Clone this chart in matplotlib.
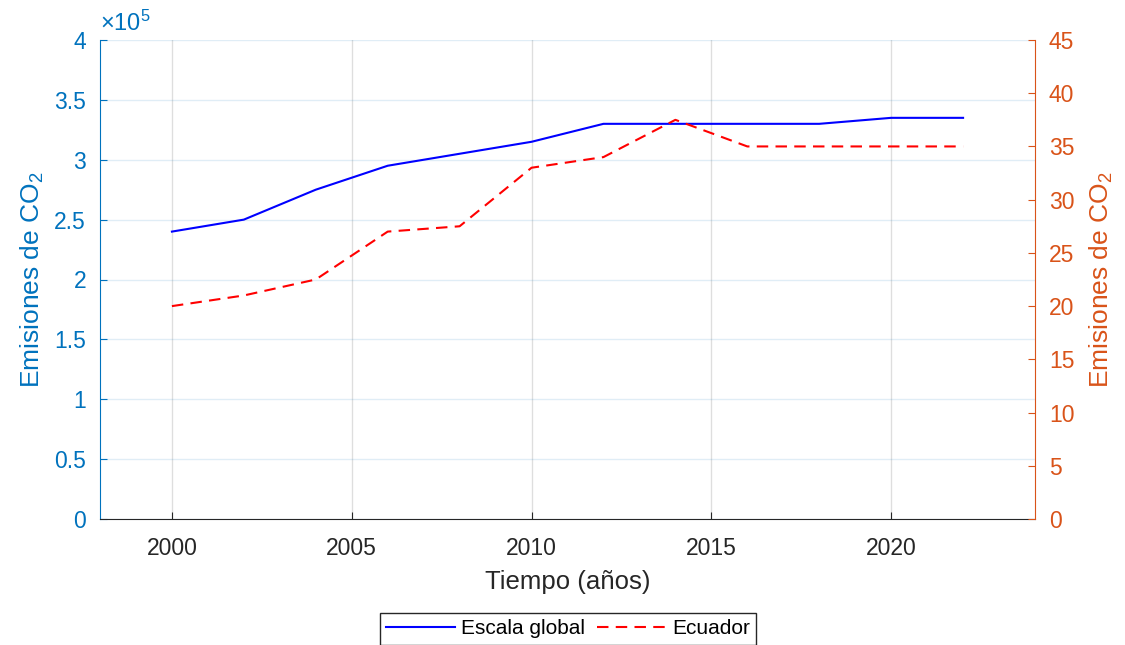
import numpy as np
import matplotlib
matplotlib.use("Agg")
import matplotlib.pyplot as plt
from matplotlib.ticker import FuncFormatter, MultipleLocator
from matplotlib.lines import Line2D

plt.rcParams["font.family"] = ["Liberation Sans", "DejaVu Sans"]
plt.rcParams["mathtext.fontset"] = "custom"
plt.rcParams["mathtext.rm"] = "Liberation Sans"
plt.rcParams["mathtext.default"] = "regular"

years = [2000, 2002, 2004, 2006, 2008, 2010, 2012, 2014, 2016, 2018, 2020, 2022]
global_co2 = [2.40e5, 2.50e5, 2.75e5, 2.95e5, 3.05e5, 3.15e5, 3.30e5, 3.30e5,
              3.30e5, 3.30e5, 3.35e5, 3.35e5]
ecuador_co2 = [20.0, 21.0, 22.5, 27.0, 27.5, 33.0, 34.0, 37.5, 35.0, 35.0, 35.0, 35.0]

left_color = "#0072BD"
right_color = "#D95319"
dark = "#262626"

fig = plt.figure(figsize=(11.25, 6.45), dpi=100)
ax = fig.add_axes([100 / 1125, 1 - 519 / 645, 935 / 1125, 479 / 645])
ax2 = ax.twinx()

ax.plot(years, global_co2, color="#0000FF", lw=1.5, zorder=3)
ax2.plot(years, ecuador_co2, color="#FF0000", lw=1.5, ls=(0, (5.5, 3.5)), zorder=3)

ax.set_xlim(1998, 2024)
ax.set_ylim(0, 4e5)
ax2.set_ylim(0, 45)
ax.set_xticks([2000, 2005, 2010, 2015, 2020])
ax.yaxis.set_major_locator(MultipleLocator(0.5e5))
ax.yaxis.set_major_formatter(FuncFormatter(lambda v, p: f"{v / 1e5:g}"))
ax2.yaxis.set_major_locator(MultipleLocator(5))

# grid: vertical grey, horizontal tinted by left axis
ax.grid(axis="x", color=dark, alpha=0.15, lw=1)
ax.grid(axis="y", color=left_color, alpha=0.12, lw=1)
ax.set_axisbelow(True)

for a in (ax, ax2):
    for s in a.spines.values():
        s.set_visible(False)
ax.spines["left"].set_visible(True)
ax.spines["left"].set_color(left_color)
ax.spines["bottom"].set_visible(True)
ax.spines["bottom"].set_color(dark)
ax2.spines["right"].set_visible(True)
ax2.spines["right"].set_color(right_color)

ax.tick_params(axis="x", direction="in", length=5, colors=dark, labelsize=16.5, pad=13)
ax.tick_params(axis="y", direction="in", length=5, colors=left_color,
               labelcolor=left_color, labelsize=16.5, pad=10)
ax2.tick_params(axis="y", direction="in", length=5, colors=right_color,
                labelcolor=right_color, labelsize=16.5, pad=10)

ax.set_ylabel("Emisiones de CO$_2$", color=left_color, fontsize=19, labelpad=6)
ax2.set_ylabel("Emisiones de CO$_2$", color=right_color, fontsize=19, labelpad=10)
ax.set_xlabel("Tiempo (años)", color=dark, fontsize=18.5, labelpad=7)

ax.text(0, 1.008, r"$\times10^{5}$", transform=ax.transAxes, color=left_color,
        fontsize=17, ha="left", va="bottom")

handles = [Line2D([], [], color="#0000FF", lw=1.5),
           Line2D([], [], color="#FF0000", lw=1.5, ls=(0, (5.5, 3.5)))]
leg = fig.legend(handles, ["Escala global", "Ecuador"], loc="upper center",
                 bbox_to_anchor=(568 / 1125, 1 - 613 / 645), ncol=2, fontsize=15,
                 frameon=True, fancybox=False, edgecolor=dark, framealpha=1,
                 handlelength=3.3, handletextpad=0.3, columnspacing=0.6,
                 borderpad=0.3, borderaxespad=0)
leg.get_frame().set_linewidth(1.0)

fig.savefig("out.png", dpi=100, facecolor="white")
